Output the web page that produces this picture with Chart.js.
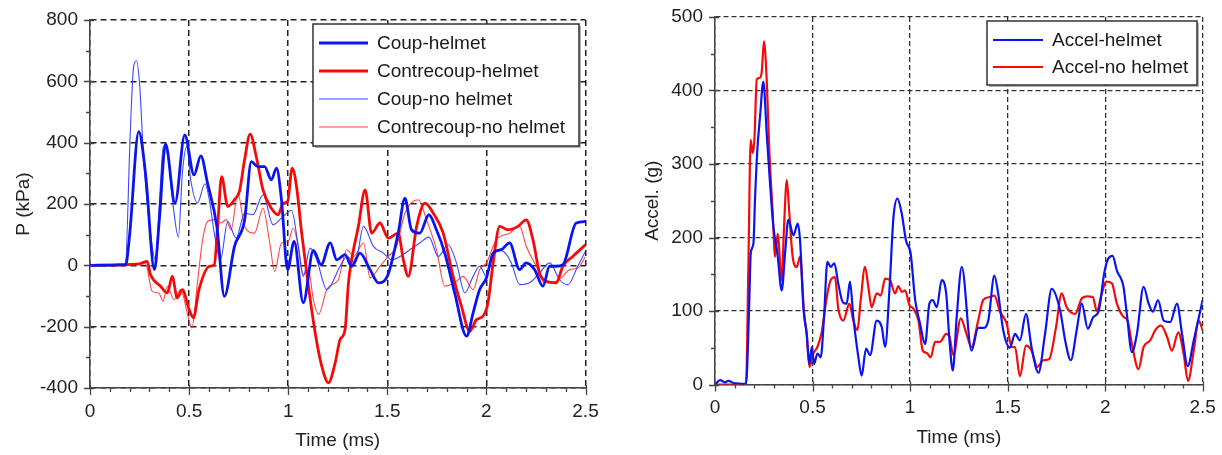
<!DOCTYPE html>
<html>
<head>
<meta charset="utf-8">
<script src="https://cdn.jsdelivr.net/npm/chart.js@4.4.0/dist/chart.umd.min.js"></script>
<style>
  body { margin: 0; background: #fff; }
  .panel { position: absolute; top: 0; height: 455px; }
  #left { left: 0; width: 600px; }
  #right { left: 610px; width: 612px; }
</style>
</head>
<body>
<div class="panel" id="left"><canvas id="pressure"></canvas></div>
<div class="panel" id="right"><canvas id="accel"></canvas></div>
<script>
// tick values / labels
const timeTicks = [0, 0.5, 1, 1.5, 2, 2.5]
const timeLabels = ['0', '0.5', '1', '1.5', '2', '2.5']
const pressureTicks = [-400, -200, 0, 200, 400, 600, 800]
const pressureLabels = ['-400', '-200', '0', '200', '400', '600', '800']
const accelTicks = [0, 100, 200, 300, 400, 500]
const accelLabels = ['0', '100', '200', '300', '400', '500']

// left panel: pressure (kPa) vs time (ms)
const coupHelmetT = [
  0, 0.18, 0.2, 0.246, 0.28, 0.325, 0.35, 0.381, 0.429, 0.478,
  0.525, 0.559, 0.593, 0.64, 0.678, 0.729, 0.78, 0.814, 0.847, 0.881,
  0.915, 0.941, 0.966, 0.997, 1.03, 1.076, 1.127, 1.166, 1.212, 1.245,
  1.287, 1.32, 1.362, 1.413, 1.455, 1.5, 1.555, 1.589, 1.622, 1.664,
  1.71, 1.748, 1.79, 1.84, 1.9, 1.933, 1.966, 2.0, 2.034, 2.075,
  2.117, 2.168, 2.2, 2.243, 2.285, 2.319, 2.352, 2.386, 2.453, 2.5]
const coupHelmet = [
  0, 2, 100, 436, 300, -14, 150, 396, 203, 425,
  295, 357, 268, 127, -101, 62, 148, 338, 322, 322,
  279, 317, 214, -14, 78, -122, 49, 2, 73, 18,
  35, -3, 40, -14, -57, -36, 105, 219, 116, 105,
  165, 116, 40, -90, -231, -155, -79, -41, 40, 51,
  73, -14, 8, -14, -68, -3, -3, 2, 138, 143]

const contreHelmetT = [
  0, 0.25, 0.288, 0.305, 0.356, 0.39, 0.415, 0.44, 0.466, 0.5,
  0.522, 0.55, 0.602, 0.627, 0.644, 0.664, 0.695, 0.729, 0.754, 0.78,
  0.808, 0.839, 0.873, 0.915, 0.949, 0.975, 0.997, 1.02, 1.042, 1.068,
  1.102, 1.136, 1.169, 1.203, 1.237, 1.262, 1.287, 1.304, 1.32, 1.354,
  1.388, 1.421, 1.463, 1.505, 1.555, 1.581, 1.606, 1.648, 1.69, 1.732,
  1.782, 1.832, 1.874, 1.916, 1.95, 1.983, 2.008, 2.034, 2.067, 2.109,
  2.159, 2.201, 2.235, 2.268, 2.302, 2.352, 2.386, 2.436, 2.5]
const contreHelmet = [
  0, 5, 13, -30, -68, -90, -36, -106, -79, -144,
  -171, -79, -3, 2, 127, 289, 192, 214, 241, 344,
  428, 354, 246, 186, 165, 203, 208, 317, 257, 105,
  -68, -220, -328, -383, -318, -242, -209, -57, 18, 127,
  246, 105, 138, 89, 105, 18, -36, 127, 203, 170,
  105, -36, -133, -215, -177, -166, -122, 8, 127, 116,
  127, 148, 83, -25, -52, -57, -3, 29, 67]

const coupNoHelmetT = [
  0, 0.178, 0.203, 0.22, 0.234, 0.25, 0.271, 0.305, 0.33, 0.351,
  0.37, 0.393, 0.42, 0.446, 0.466, 0.488, 0.508, 0.542, 0.58, 0.602,
  0.627, 0.658, 0.695, 0.737, 0.78, 0.822, 0.873, 0.924, 0.966, 1.017,
  1.051, 1.076, 1.11, 1.144, 1.195, 1.262, 1.296, 1.338, 1.38, 1.43,
  1.48, 1.522, 1.564, 1.614, 1.664, 1.71, 1.757, 1.807, 1.849, 1.891,
  1.933, 1.966, 2.0, 2.042, 2.084, 2.126, 2.168, 2.218, 2.268, 2.319,
  2.369, 2.411, 2.461, 2.5]
const coupNoHelmet = [
  0, 0, 430, 647, 667, 593, 344, 105, 18, 214,
  389, 354, 192, 92, 300, 387, 279, 203, 266, 214,
  105, 18, 143, 89, 170, 165, 230, 132, 154, 179,
  62, -36, 56, 18, -79, -3, 29, 8, 127, 62,
  40, 18, 29, 51, 73, 92, 29, 67, 8, -90,
  -36, -3, -36, 51, 46, 8, -63, -57, -25, 8,
  -47, -63, -3, 46]

const contreNoHelmetT = [
  0, 0.28, 0.314, 0.347, 0.369, 0.39, 0.424, 0.458, 0.492, 0.514,
  0.542, 0.568, 0.593, 0.627, 0.661, 0.686, 0.712, 0.746, 0.78, 0.83,
  0.873, 0.907, 0.932, 0.966, 1.0, 1.025, 1.051, 1.076, 1.102, 1.127,
  1.153, 1.195, 1.237, 1.253, 1.296, 1.33, 1.38, 1.413, 1.463, 1.505,
  1.547, 1.589, 1.656, 1.698, 1.748, 1.79, 1.84, 1.883, 1.933, 1.966,
  2.0, 2.05, 2.117, 2.168, 2.201, 2.252, 2.294, 2.352, 2.386, 2.42,
  2.461, 2.5]
const contreNoHelmet = [
  0, 5, -85, -90, -117, -68, -112, -79, -160, -204,
  -57, 83, 143, 149, 138, 149, 116, 235, 127, 105,
  186, 73, -20, 73, 78, 121, 62, -30, -14, -112,
  -160, -79, -57, -47, 51, 29, 73, -41, -3, 29,
  62, 170, 214, 149, 51, -68, -57, -36, -79, -14,
  8, 83, 105, 127, 62, -3, -57, -52, -36, -14,
  -9, 29]

// right panel: acceleration (g) vs time (ms)
const accelHelmetT = [
  0, 0.026, 0.05, 0.07, 0.095, 0.159, 0.176, 0.183, 0.197, 0.205,
  0.217, 0.231, 0.248, 0.265, 0.282, 0.299, 0.32, 0.342, 0.359, 0.376,
  0.402, 0.424, 0.436, 0.453, 0.47, 0.484, 0.496, 0.508, 0.525, 0.542,
  0.559, 0.576, 0.593, 0.612, 0.632, 0.655, 0.675, 0.692, 0.709, 0.735,
  0.752, 0.774, 0.795, 0.829, 0.855, 0.872, 0.894, 0.915, 0.935, 0.957,
  0.979, 1.003, 1.026, 1.051, 1.077, 1.099, 1.116, 1.137, 1.162, 1.185,
  1.202, 1.219, 1.239, 1.265, 1.315, 1.349, 1.375, 1.401, 1.432, 1.452,
  1.478, 1.512, 1.538, 1.563, 1.594, 1.623, 1.658, 1.692, 1.726, 1.769,
  1.795, 1.824, 1.854, 1.88, 1.911, 1.94, 1.966, 1.995, 2.012, 2.038,
  2.06, 2.094, 2.111, 2.137, 2.163, 2.197, 2.223, 2.245, 2.271, 2.3,
  2.334, 2.368, 2.394, 2.423, 2.454, 2.5]
const accelHelmet = [
  0, 6, 3, 5, 2, 1, 115, 178, 192, 251,
  319, 365, 412, 342, 274, 215, 178, 128, 178, 224,
  203, 219, 196, 105, 69, 28, 51, 28, 42, 37,
  92, 167, 160, 165, 137, 112, 110, 140, 92, 37,
  12, 49, 40, 87, 78, 51, 128, 228, 253, 233,
  196, 178, 115, 83, 55, 110, 115, 105, 142, 124,
  60, 19, 92, 160, 46, 77, 77, 87, 148, 123,
  73, 50, 69, 60, 96, 50, 16, 69, 130, 101,
  60, 33, 74, 110, 76, 92, 99, 151, 169, 175,
  155, 133, 96, 44, 69, 133, 110, 99, 115, 87,
  85, 110, 69, 25, 60, 115]

const accelNoHelmetT = [
  0, 0.159, 0.171, 0.183, 0.193, 0.202, 0.214, 0.227, 0.239, 0.251,
  0.265, 0.279, 0.296, 0.308, 0.321, 0.342, 0.354, 0.368, 0.381, 0.398,
  0.419, 0.436, 0.457, 0.47, 0.484, 0.504, 0.525, 0.547, 0.573, 0.593,
  0.615, 0.632, 0.658, 0.689, 0.709, 0.73, 0.747, 0.769, 0.786, 0.803,
  0.829, 0.85, 0.872, 0.897, 0.923, 0.94, 0.957, 0.974, 0.997, 1.017,
  1.043, 1.065, 1.085, 1.106, 1.128, 1.154, 1.185, 1.202, 1.222, 1.26,
  1.289, 1.315, 1.349, 1.375, 1.409, 1.432, 1.461, 1.495, 1.521, 1.538,
  1.563, 1.594, 1.623, 1.652, 1.683, 1.714, 1.748, 1.777, 1.803, 1.846,
  1.88, 1.906, 1.937, 1.957, 1.983, 2.005, 2.034, 2.06, 2.094, 2.115,
  2.137, 2.171, 2.197, 2.231, 2.257, 2.286, 2.317, 2.342, 2.375, 2.402,
  2.425, 2.454, 2.479, 2.5]
const accelNoHelmet = [
  0, 0, 160, 333, 315, 333, 415, 417, 424, 467,
  415, 315, 233, 174, 205, 142, 215, 278, 233, 174,
  160, 174, 96, 69, 24, 42, 51, 71, 119, 142,
  146, 103, 87, 110, 87, 74, 115, 160, 133, 105,
  124, 121, 144, 142, 124, 134, 126, 128, 108, 103,
  87, 46, 43, 37, 58, 58, 69, 65, 40, 90,
  69, 51, 87, 115, 119, 121, 99, 83, 51, 51,
  11, 53, 46, 24, 33, 35, 78, 124, 105, 96,
  117, 120, 119, 100, 124, 140, 138, 110, 92, 87,
  55, 21, 51, 60, 74, 80, 65, 46, 71, 42,
  5, 46, 87, 74]

const FONT = '"Liberation Sans", Arial, sans-serif'
Chart.defaults.font.family = FONT
Chart.defaults.font.size = 19
Chart.defaults.color = '#222'
Chart.defaults.animation = false

function pts(t, v){
    return t.map((x, i) => ({x: x, y: v[i]}))
}

// major ticks cross the axis, minor ticks sit outside
const axisTicks = {
    id: 'axisTicks',
    afterDraw(chart, args, o) {
        const {ctx, chartArea: a, scales: {x, y}} = chart
        ctx.save()
        ctx.strokeStyle = '#444'
        ctx.lineWidth = 1.3
        ctx.beginPath()
        x.ticks.forEach(t => {
            const px = Math.round(x.getPixelForValue(t.value)) + 0.5
            ctx.moveTo(px, a.bottom - 3); ctx.lineTo(px, a.bottom + 7)
        })
        let n = Math.round((x.max - x.min) / o.minorX)
        for (let i = 0; i <= n; i++){
            const px = Math.round(x.getPixelForValue(x.min + i * o.minorX)) + 0.5
            ctx.moveTo(px, a.bottom); ctx.lineTo(px, a.bottom + 4)
        }
        y.ticks.forEach(t => {
            const py = Math.round(y.getPixelForValue(t.value)) + 0.5
            ctx.moveTo(a.left - 6, py); ctx.lineTo(a.left + 4, py)
        })
        n = Math.round((y.max - y.min) / o.minorY)
        for (let i = 0; i <= n; i++){
            const py = Math.round(y.getPixelForValue(y.min + i * o.minorY)) + 0.5
            ctx.moveTo(a.left - 4, py); ctx.lineTo(a.left, py)
        }
        ctx.stroke()
        ctx.restore()
    }
}

// boxed legend inside the plot, top right
const boxLegend = {
    id: 'boxLegend',
    afterDatasetsDraw(chart, args, o) {
        const {ctx, chartArea: a} = chart
        const x0 = a.right - o.right - o.width
        const y0 = a.top + o.top
        ctx.save()
        ctx.fillStyle = 'rgba(0,0,0,0.3)'
        ctx.fillRect(x0 + 2, y0 + 2, o.width, o.height)
        ctx.fillStyle = '#fff'
        ctx.fillRect(x0, y0, o.width, o.height)
        ctx.strokeStyle = '#333'
        ctx.lineWidth = 1.5
        ctx.strokeRect(x0, y0, o.width, o.height)
        ctx.font = '19px ' + FONT
        ctx.textBaseline = 'middle'
        chart.data.datasets.forEach((d, i) => {
            const yy = y0 + o.first + i * o.step
            ctx.strokeStyle = d.borderColor
            ctx.lineWidth = d.borderWidth
            ctx.beginPath()
            ctx.moveTo(x0 + o.lineStart, yy)
            ctx.lineTo(x0 + o.lineStart + o.lineLen, yy)
            ctx.stroke()
            ctx.fillStyle = '#1a1a1a'
            ctx.fillText(d.label, x0 + o.textStart, yy + 1)
        })
        ctx.restore()
    }
}

function line(label, data, color, width){
    return {
        label: label,
        data: data,
        borderColor: color,
        borderWidth: width,
        pointRadius: 0,
        cubicInterpolationMode: 'monotone',
        fill: false
    }
}

function scale(opts){
    return {
        type: 'linear',
        min: opts.min,
        max: opts.max,
        afterBuildTicks: s => { s.ticks = opts.ticks.map(v => ({value: v})) },
        afterFit: opts.fit,
        ticks: {
            padding: 0,
            autoSkip: false,
            maxRotation: 0,
            callback: (v, i) => opts.labels[i]
        },
        // tick marks are drawn by the axisTicks plugin; the invisible ones only keep the label gap
        grid: { color: opts.gridColor, lineWidth: opts.gridWidth, drawTicks: true, tickLength: 12, tickColor: 'rgba(0,0,0,0)' },
        border: { display: true, color: '#444', width: 1.5, dash: opts.dash },
        title: { display: true, text: opts.title, padding: 0, font: { size: 19 } }
    }
}

new Chart(document.getElementById('pressure').getContext('2d'), {
    type: 'line',
    data: {
        datasets: [
            line('Coup-helmet', pts(coupHelmetT, coupHelmet), '#0a14f0', 2.8),
            line('Contrecoup-helmet', pts(contreHelmetT, contreHelmet), '#f50a0a', 2.8),
            line('Coup-no helmet', pts(coupNoHelmetT, coupNoHelmet), 'rgba(40,50,255,0.9)', 1.1),
            line('Contrecoup-no helmet', pts(contreNoHelmetT, contreNoHelmet), 'rgba(255,50,50,0.9)', 1.1)
        ]
    },
    options: {
        responsive: true,
        maintainAspectRatio: false,
        layout: { padding: { left: 12, top: 20, right: 14.5, bottom: 3 } },
        scales: {
            x: scale({ min: 0, max: 2.5, ticks: timeTicks, labels: timeLabels, title: 'Time (ms)',
                       gridColor: '#222', gridWidth: 1.5, dash: [6, 4], fit: s => { s.height = 64 } }),
            y: scale({ min: -400, max: 800, ticks: pressureTicks, labels: pressureLabels, title: 'P (kPa)',
                       gridColor: '#222', gridWidth: 1.5, dash: [6, 4], fit: s => { s.width = 78 } })
        },
        plugins: {
            legend: { display: false },
            tooltip: { enabled: false },
            axisTicks: { minorX: 0.1, minorY: 100 },
            boxLegend: { right: 6.5, top: 4, width: 266, height: 122, first: 19, step: 28,
                         lineStart: 6, lineLen: 49, textStart: 64 }
        }
    },
    plugins: [boxLegend, axisTicks]
})

new Chart(document.getElementById('accel').getContext('2d'), {
    type: 'line',
    data: {
        datasets: [
            line('Accel-helmet', pts(accelHelmetT, accelHelmet), '#0a14f0', 2.2),
            line('Accel-no helmet', pts(accelNoHelmetT, accelNoHelmet), '#f50a0a', 2.2)
        ]
    },
    options: {
        responsive: true,
        maintainAspectRatio: false,
        layout: { padding: { left: 31.6, top: 17, right: 19.3, bottom: 5.5 } },
        scales: {
            x: scale({ min: 0, max: 2.5, ticks: timeTicks, labels: timeLabels, title: 'Time (ms)',
                       gridColor: '#333', gridWidth: 1.3, dash: [5, 3], fit: s => { s.height = 65 } }),
            y: scale({ min: 0, max: 500, ticks: accelTicks, labels: accelLabels, title: 'Accel. (g)',
                       gridColor: '#333', gridWidth: 1.3, dash: [5, 3], fit: s => { s.width = 73.4 } })
        },
        plugins: {
            legend: { display: false },
            tooltip: { enabled: false },
            axisTicks: { minorX: 0.1, minorY: 50 },
            boxLegend: { right: 5.7, top: 4, width: 210, height: 64, first: 19, step: 27,
                         lineStart: 6, lineLen: 50, textStart: 65 }
        }
    },
    plugins: [boxLegend, axisTicks]
})
</script>
</body>
</html>
